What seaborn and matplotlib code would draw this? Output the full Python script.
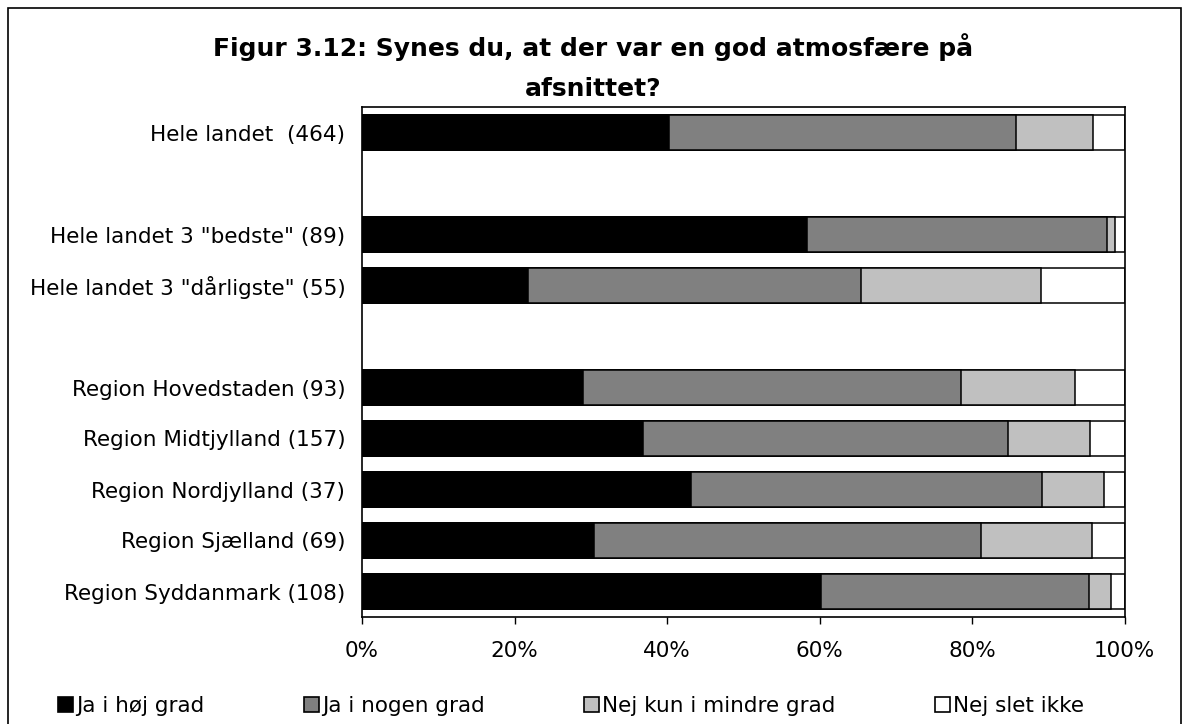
import numpy as np
import pandas as pd
import matplotlib
matplotlib.use('Agg')
import matplotlib.pyplot as plt
from matplotlib.patches import Patch, Rectangle
import seaborn as sns

# --- data (procent) ---
labels = ['Hele landet  (464)',
          'Hele landet 3 "bedste" (89)',
          'Hele landet 3 "dårligste" (55)',
          'Region Hovedstaden (93)',
          'Region Midtjylland (157)',
          'Region Nordjylland (37)',
          'Region Sjælland (69)',
          'Region Syddanmark (108)']
ja_hoej = [40.3, 58.4, 21.8, 29.0, 36.9, 43.2, 30.4, 60.2]
ja_nogen = [45.5, 39.3, 43.7, 49.5, 47.8, 46.0, 50.8, 35.2]
nej_mindre = [10.1, 1.1, 23.6, 15.0, 10.8, 8.1, 14.5, 2.8]
nej_slet = [4.1, 1.2, 10.9, 6.5, 4.5, 2.7, 4.3, 1.8]

series_names = ['Ja i høj grad', 'Ja i nogen grad', 'Nej kun i mindre grad', 'Nej slet ikke']
colors = ['#000000', '#808080', '#C0C0C0', '#FFFFFF']

# tomme rækker mellem grupperne
order = [labels[0], '_gap1', labels[1], labels[2], '_gap2'] + labels[3:]

sns.set_style('white')
plt.rcParams['font.family'] = ['DejaVu Sans']
plt.rcParams['text.color'] = 'black'
plt.rcParams['xtick.color'] = 'black'
plt.rcParams['ytick.color'] = 'black'

df = pd.DataFrame({'label': labels})
vals = np.array([ja_hoej, ja_nogen, nej_mindre, nej_slet])
cum = np.cumsum(vals, axis=0)
for i, name in enumerate(series_names):
    df[name] = cum[i]

fig = plt.figure(figsize=(11.87, 7.24), dpi=100)
ax = fig.add_axes([362 / 1187, 1 - 617 / 724, 762.5 / 1187, 510 / 724])

# tegn bagfra, så hver stablet del ligger ovenpå
for name, c in reversed(list(zip(series_names, colors))):
    sns.barplot(data=df, x=name, y='label', order=order, orient='h',
                color=c, saturation=1, edgecolor='black', linewidth=1.1,
                width=0.7, errorbar=None, ax=ax)

ax.set_xlim(0, 100)
ax.set_ylim(9.5, -0.5)
ax.set_xticks([0, 20, 40, 60, 80, 100])
ax.set_xticklabels([f'{v}%' for v in [0, 20, 40, 60, 80, 100]])
ax.set_yticks(range(len(order)))
ax.set_yticklabels(['' if o.startswith('_gap') else o for o in order])
ax.set_xlabel('')
ax.set_ylabel('')
ax.tick_params(axis='x', length=5, width=1, color='black', direction='out',
               pad=12, labelsize=15.5, bottom=True, labelcolor='black')
ax.tick_params(axis='y', length=0, pad=12, labelsize=15.5, labelcolor='black')
for s in ax.spines.values():
    s.set_visible(True)
    s.set_color('black')
    s.set_linewidth(1.2)

fig.text(0.5, 1 - 67 / 724, 'Figur 3.12: Synes du, at der var en god atmosfære på\nafsnittet?',
         ha='center', va='center', fontsize=18, fontweight='bold', color='black',
         linespacing=1.85, multialignment='center')

handles = [Patch(facecolor=c, edgecolor='black', linewidth=1.2) for c in colors]
fig.legend(handles, series_names, loc='center', bbox_to_anchor=(571 / 1187, 1 - 706 / 724),
           ncol=4, frameon=False, fontsize=15.5, handlelength=0.7, handleheight=0.7,
           handletextpad=0.15, columnspacing=4.6)

# ramme om hele diagrammet
fig.patches.append(Rectangle((8 / 1187, -0.05), 1173 / 1187, 1.05 - 8 / 724,
                             transform=fig.transFigure, fill=False,
                             edgecolor='black', linewidth=1.2))

fig.savefig('out.png', dpi=100)
